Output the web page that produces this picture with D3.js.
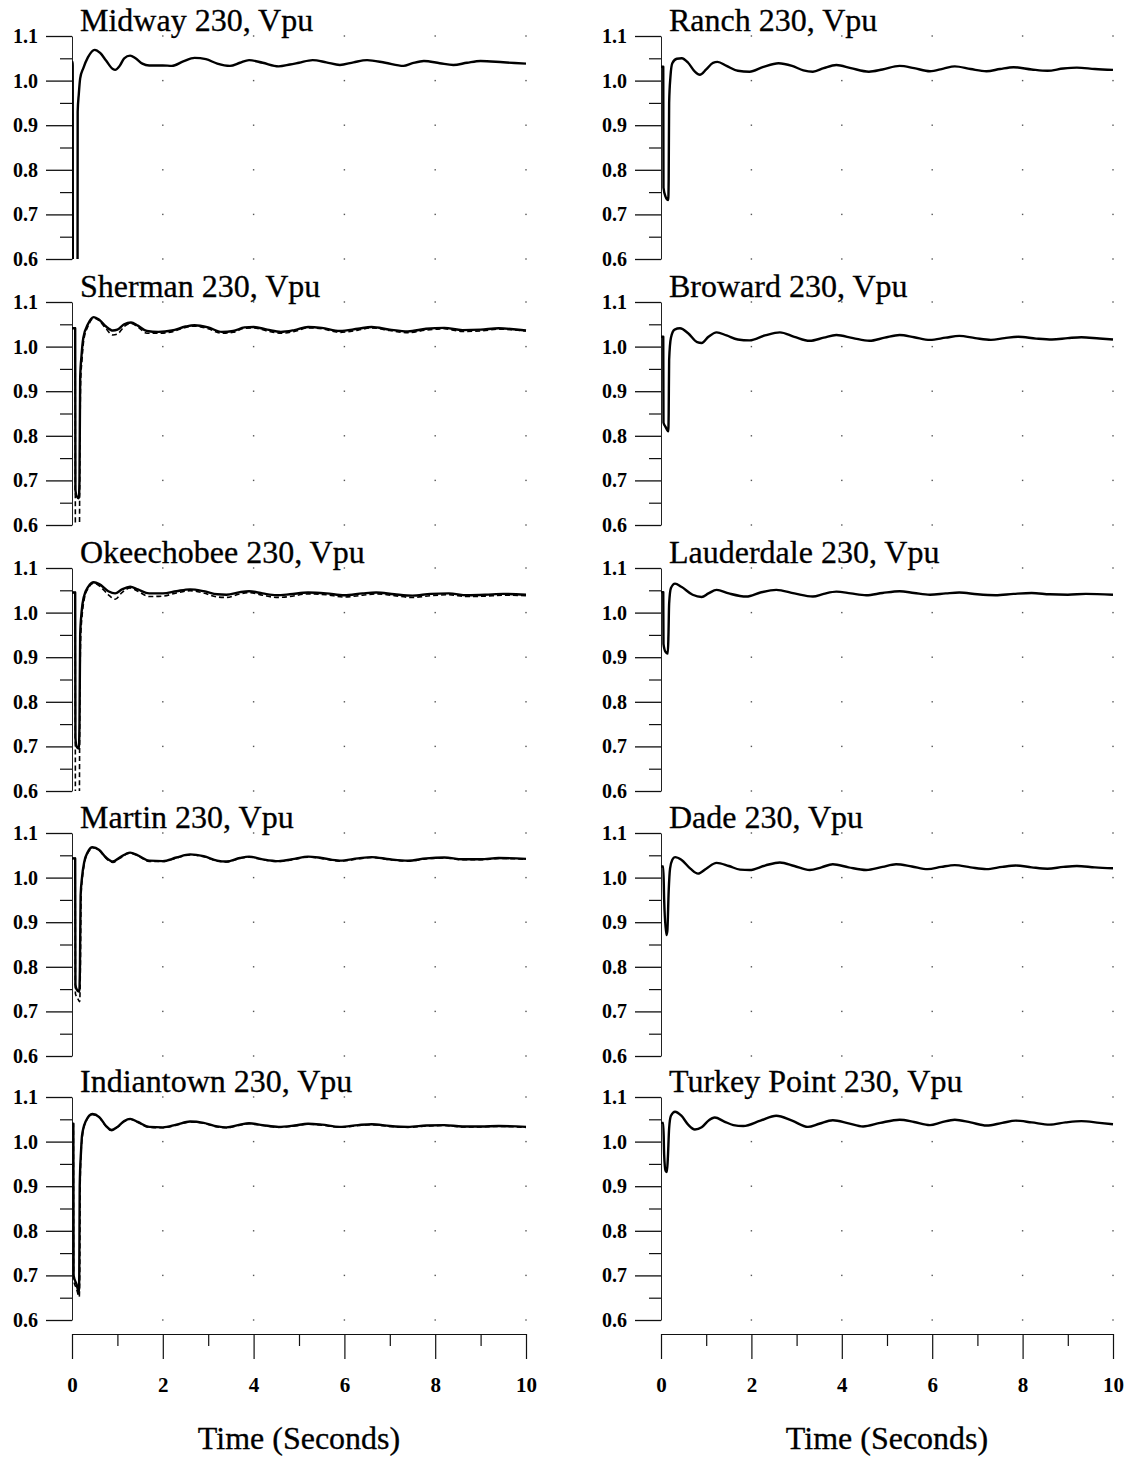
<!DOCTYPE html>
<html><head><meta charset="utf-8">
<script src="https://cdn.jsdelivr.net/npm/d3@7"></script>
<style>body{margin:0;background:#fff}svg{display:block}</style>
</head><body><svg id="c" width="1132" height="1459"></svg>
<script>
// ---------- data ----------
const yTicks = [0.6, 0.7, 0.8, 0.9, 1.0, 1.1];
const yMinor = [0.65, 0.75, 0.85, 0.95, 1.05];
const xTicks = [0, 2, 4, 6, 8, 10];
const xMinor = [1, 3, 5, 7, 9];
const gridT = [2, 4, 6, 8, 10];

const midway = [[0,1.042],[0.015,1.042],[0.02,0.3],[0.12,0.3],[0.125,0.93],[0.15,0.97],[0.18,1.005],[0.25,1.028],[0.35,1.052],[0.5,1.069],[0.62,1.062],[0.75,1.045],[0.9,1.026],[0.95,1.024],[1.05,1.033],[1.15,1.05],[1.28,1.056],[1.4,1.05],[1.55,1.038],[1.7,1.034],[2.0,1.034],[2.2,1.033],[2.45,1.043],[2.7,1.051],[2.95,1.048],[3.2,1.038],[3.48,1.033],[3.7,1.04],[3.9,1.046],[4.2,1.04],[4.55,1.032],[4.8,1.036],[5.0,1.04],[5.3,1.046],[5.6,1.041],[5.9,1.035],[6.2,1.041],[6.5,1.046],[6.9,1.04],[7.3,1.033],[7.5,1.039],[7.75,1.044],[8.1,1.039],[8.4,1.035],[8.7,1.04],[9.0,1.044],[9.5,1.041],[10,1.038]];

const shermanSolid = [[0,1.041],[0.07,1.041],[0.075,0.68],[0.1,0.665],[0.15,0.66],[0.165,0.7],[0.18,0.93],[0.21,0.98],[0.25,1.02],[0.35,1.05],[0.48,1.066],[0.6,1.06],[0.75,1.045],[0.9,1.036],[1.0,1.038],[1.15,1.05],[1.3,1.054],[1.45,1.047],[1.65,1.035],[1.9,1.033],[2.2,1.036],[2.5,1.045],[2.7,1.048],[3.0,1.043],[3.3,1.033],[3.55,1.035],[3.8,1.043],[4.0,1.044],[4.3,1.038],[4.6,1.033],[4.9,1.037],[5.2,1.044],[5.5,1.042],[5.9,1.035],[6.3,1.04],[6.6,1.044],[7.0,1.038],[7.4,1.034],[7.8,1.04],[8.2,1.042],[8.6,1.037],[9.0,1.038],[9.4,1.041],[10,1.036]];
const shermanDashed = [[0,1.041],[0.07,1.041],[0.075,0.5],[0.16,0.5],[0.17,0.7],[0.19,0.92],[0.22,0.97],[0.26,1.015],[0.35,1.045],[0.48,1.064],[0.6,1.058],[0.75,1.04],[0.9,1.026],[1.0,1.028],[1.15,1.045],[1.3,1.052],[1.45,1.044],[1.65,1.03],[1.9,1.03],[2.2,1.033],[2.5,1.043],[2.7,1.046],[3.0,1.04],[3.3,1.03],[3.55,1.032],[3.8,1.041],[4.0,1.042],[4.3,1.035],[4.6,1.03],[4.9,1.034],[5.2,1.042],[5.5,1.04],[5.9,1.032],[6.3,1.037],[6.6,1.042],[7.0,1.036],[7.4,1.031],[7.8,1.037],[8.2,1.04],[8.6,1.034],[9.0,1.035],[9.4,1.039],[10,1.035]];

const okeeSolid = [[0,1.045],[0.07,1.045],[0.075,0.72],[0.1,0.7],[0.15,0.695],[0.165,0.75],[0.18,0.95],[0.21,1.0],[0.26,1.035],[0.36,1.058],[0.48,1.068],[0.6,1.064],[0.8,1.048],[0.95,1.043],[1.1,1.052],[1.28,1.058],[1.45,1.052],[1.7,1.043],[2.0,1.043],[2.3,1.048],[2.6,1.052],[2.9,1.048],[3.2,1.041],[3.4,1.04],[3.7,1.046],[3.9,1.048],[4.2,1.043],[4.5,1.039],[4.8,1.041],[5.2,1.045],[5.6,1.043],[6.0,1.039],[6.4,1.043],[6.7,1.045],[7.1,1.041],[7.5,1.038],[7.9,1.042],[8.3,1.043],[8.7,1.039],[9.1,1.04],[9.5,1.042],[10,1.04]];
const okeeDashed = [[0,1.045],[0.07,1.045],[0.075,0.55],[0.16,0.55],[0.17,0.75],[0.19,0.94],[0.22,0.99],[0.27,1.03],[0.36,1.055],[0.48,1.066],[0.6,1.06],[0.8,1.04],[0.95,1.03],[1.1,1.045],[1.28,1.055],[1.45,1.048],[1.7,1.036],[2.0,1.037],[2.3,1.044],[2.6,1.049],[2.9,1.044],[3.2,1.035],[3.4,1.034],[3.7,1.042],[3.9,1.045],[4.2,1.039],[4.5,1.034],[4.8,1.036],[5.2,1.042],[5.6,1.04],[6.0,1.035],[6.4,1.039],[6.7,1.042],[7.1,1.038],[7.5,1.034],[7.9,1.038],[8.3,1.04],[8.7,1.036],[9.1,1.037],[9.5,1.039],[10,1.038]];

const martinSolid = [[0,1.043],[0.07,1.043],[0.075,0.76],[0.1,0.75],[0.16,0.744],[0.175,0.8],[0.19,0.96],[0.22,1.0],[0.27,1.035],[0.35,1.058],[0.45,1.068],[0.6,1.062],[0.75,1.045],[0.9,1.036],[1.05,1.045],[1.28,1.056],[1.45,1.05],[1.7,1.038],[2.0,1.037],[2.3,1.045],[2.6,1.052],[2.9,1.048],[3.2,1.038],[3.4,1.036],[3.7,1.044],[3.9,1.047],[4.2,1.041],[4.55,1.037],[4.9,1.042],[5.2,1.047],[5.5,1.044],[5.9,1.038],[6.3,1.043],[6.6,1.046],[7.0,1.041],[7.4,1.038],[7.8,1.043],[8.2,1.045],[8.6,1.041],[9.0,1.041],[9.4,1.044],[10,1.042]];
const martinDashed = [[0,1.043],[0.07,1.043],[0.075,0.74],[0.12,0.73],[0.17,0.722],[0.185,0.8],[0.2,0.96],[0.23,1.0],[0.28,1.035],[0.36,1.057],[0.46,1.067],[0.6,1.061],[0.75,1.043],[0.9,1.034],[1.05,1.043],[1.28,1.055],[1.45,1.049],[1.7,1.036],[2.0,1.036],[2.3,1.044],[2.6,1.051],[2.9,1.047],[3.2,1.037],[3.4,1.035],[3.7,1.043],[3.9,1.046],[4.2,1.04],[4.55,1.036],[4.9,1.041],[5.2,1.046],[5.5,1.043],[5.9,1.037],[6.3,1.042],[6.6,1.045],[7.0,1.04],[7.4,1.037],[7.8,1.042],[8.2,1.044],[8.6,1.04],[9.0,1.04],[9.4,1.043],[10,1.041]];

const indianSolid = [[0,1.04],[0.03,1.04],[0.035,0.7],[0.1,0.68],[0.15,0.663],[0.16,0.7],[0.17,0.9],[0.2,0.98],[0.22,1.013],[0.3,1.045],[0.45,1.062],[0.6,1.055],[0.75,1.035],[0.87,1.026],[1.0,1.033],[1.15,1.046],[1.28,1.051],[1.45,1.044],[1.7,1.033],[2.0,1.032],[2.3,1.038],[2.6,1.045],[2.9,1.042],[3.2,1.034],[3.4,1.032],[3.7,1.038],[3.9,1.041],[4.2,1.037],[4.55,1.033],[4.9,1.036],[5.2,1.04],[5.5,1.038],[5.9,1.033],[6.3,1.037],[6.6,1.039],[7.0,1.035],[7.4,1.033],[7.8,1.036],[8.2,1.037],[8.6,1.034],[9.0,1.034],[9.4,1.035],[10,1.033]];
const indianDashed = [[0,1.04],[0.03,1.04],[0.035,0.69],[0.1,0.67],[0.16,0.652],[0.17,0.7],[0.18,0.9],[0.2,0.975],[0.23,1.012],[0.3,1.044],[0.45,1.061],[0.6,1.054],[0.75,1.034],[0.87,1.025],[1.0,1.032],[1.15,1.045],[1.28,1.05],[1.45,1.043],[1.7,1.032],[2.0,1.031],[2.3,1.037],[2.6,1.044],[2.9,1.041],[3.2,1.033],[3.4,1.031],[3.7,1.037],[3.9,1.04],[4.2,1.036],[4.55,1.032],[4.9,1.035],[5.2,1.039],[5.5,1.037],[5.9,1.032],[6.3,1.036],[6.6,1.038],[7.0,1.034],[7.4,1.032],[7.8,1.035],[8.2,1.036],[8.6,1.033],[9.0,1.033],[9.4,1.034],[10,1.032]];

const ranch = [[0,1.031],[0.05,1.031],[0.055,0.76],[0.1,0.74],[0.16,0.732],[0.17,0.78],[0.18,0.95],[0.21,1.01],[0.25,1.039],[0.35,1.049],[0.46,1.05],[0.6,1.04],[0.75,1.02],[0.86,1.013],[1.0,1.025],[1.15,1.04],[1.25,1.042],[1.45,1.033],[1.7,1.022],[1.96,1.02],[2.25,1.03],[2.6,1.039],[2.9,1.033],[3.15,1.023],[3.36,1.02],[3.6,1.028],[3.88,1.035],[4.2,1.028],[4.6,1.02],[4.9,1.025],[5.28,1.033],[5.6,1.028],[5.95,1.021],[6.25,1.027],[6.5,1.032],[6.85,1.026],[7.2,1.021],[7.5,1.026],[7.8,1.03],[8.2,1.025],[8.55,1.022],[8.9,1.027],[9.2,1.029],[9.6,1.026],[10,1.024]];

const broward = [[0,1.022],[0.05,1.022],[0.055,0.83],[0.1,0.82],[0.16,0.81],[0.17,0.85],[0.18,0.97],[0.22,1.02],[0.3,1.038],[0.42,1.041],[0.6,1.03],[0.8,1.01],[0.9,1.008],[1.05,1.022],[1.23,1.032],[1.45,1.025],[1.7,1.016],[1.96,1.014],[2.3,1.025],[2.63,1.032],[2.95,1.022],[3.29,1.013],[3.6,1.02],[3.88,1.026],[4.25,1.019],[4.61,1.013],[4.95,1.02],[5.28,1.026],[5.6,1.021],[5.95,1.015],[6.3,1.02],[6.6,1.024],[6.95,1.019],[7.3,1.015],[7.6,1.019],[7.9,1.022],[8.3,1.018],[8.65,1.016],[9.0,1.019],[9.3,1.021],[9.7,1.018],[10,1.016]];

const lauderdale = [[0,1.046],[0.05,1.046],[0.055,0.93],[0.1,0.912],[0.15,0.908],[0.165,0.95],[0.18,1.02],[0.22,1.055],[0.31,1.065],[0.45,1.058],[0.7,1.04],[0.9,1.035],[1.05,1.043],[1.23,1.051],[1.5,1.043],[1.89,1.036],[2.2,1.045],[2.55,1.051],[2.95,1.043],[3.36,1.036],[3.6,1.042],[3.88,1.047],[4.2,1.043],[4.54,1.039],[4.9,1.044],[5.28,1.048],[5.6,1.044],[5.95,1.04],[6.3,1.043],[6.6,1.045],[7.0,1.041],[7.4,1.039],[7.8,1.042],[8.2,1.044],[8.6,1.041],[9.0,1.04],[9.4,1.042],[10,1.04]];

const dade = [[0,1.025],[0.05,1.025],[0.07,0.95],[0.12,0.871],[0.14,0.88],[0.17,0.97],[0.2,1.02],[0.25,1.04],[0.31,1.046],[0.45,1.04],[0.65,1.02],[0.82,1.009],[1.0,1.02],[1.23,1.033],[1.5,1.026],[1.75,1.018],[1.96,1.017],[2.3,1.027],[2.63,1.034],[2.95,1.026],[3.29,1.017],[3.55,1.023],[3.8,1.03],[4.15,1.023],[4.54,1.017],[4.9,1.024],[5.2,1.03],[5.55,1.025],[5.9,1.019],[6.2,1.024],[6.5,1.028],[6.85,1.023],[7.2,1.019],[7.55,1.024],[7.85,1.027],[8.2,1.023],[8.55,1.02],[8.9,1.024],[9.2,1.026],[9.6,1.023],[10,1.021]];

const turkey = [[0,1.042],[0.05,1.042],[0.07,0.97],[0.1,0.935],[0.13,0.932],[0.15,0.96],[0.18,1.03],[0.22,1.058],[0.31,1.067],[0.45,1.058],[0.6,1.038],[0.75,1.027],[0.9,1.032],[1.05,1.047],[1.19,1.054],[1.4,1.045],[1.6,1.037],[1.82,1.035],[2.2,1.047],[2.55,1.058],[2.9,1.047],[3.25,1.033],[3.5,1.04],[3.8,1.048],[4.15,1.041],[4.47,1.034],[4.85,1.042],[5.28,1.049],[5.6,1.044],[5.95,1.037],[6.2,1.043],[6.5,1.049],[6.85,1.043],[7.2,1.036],[7.55,1.042],[7.85,1.047],[8.2,1.043],[8.6,1.038],[8.95,1.043],[9.3,1.046],[9.7,1.042],[10,1.039]];

const stations = [
  {name: "Midway 230, Vpu", col: 0, row: 0, solid: midway, dashed: null},
  {name: "Sherman 230, Vpu", col: 0, row: 1, solid: shermanSolid, dashed: shermanDashed},
  {name: "Okeechobee 230, Vpu", col: 0, row: 2, solid: okeeSolid, dashed: okeeDashed},
  {name: "Martin 230, Vpu", col: 0, row: 3, solid: martinSolid, dashed: martinDashed},
  {name: "Indiantown 230, Vpu", col: 0, row: 4, solid: indianSolid, dashed: indianDashed},
  {name: "Ranch 230, Vpu", col: 1, row: 0, solid: ranch, dashed: null},
  {name: "Broward 230, Vpu", col: 1, row: 1, solid: broward, dashed: null},
  {name: "Lauderdale 230, Vpu", col: 1, row: 2, solid: lauderdale, dashed: null},
  {name: "Dade 230, Vpu", col: 1, row: 3, solid: dade, dashed: null},
  {name: "Turkey Point 230, Vpu", col: 1, row: 4, solid: turkey, dashed: null}
];
const xLabel = "Time (Seconds)";

// ---------- layout ----------
const colX = [[72, 526], [661, 1113]];
const rowTop = [36, 302, 568, 833, 1097];
const panelH = 223;
const axisY = 1334;
const FONT = "'Liberation Serif','Times New Roman',serif";

const svg = d3.select("#c");
svg.append("rect").attr("width", 1132).attr("height", 1459).attr("fill", "#fff");
const defs = svg.append("defs");

const xScales = colX.map(([a, b]) => d3.scaleLinear().domain([0, 10]).range([a, b]));

stations.forEach((s, i) => {
  const x = xScales[s.col];
  const top = rowTop[s.row];
  const y = d3.scaleLinear().domain([0.6, 1.1]).range([top + panelH, top]);
  const g = svg.append("g");

  // grid dots
  gridT.forEach(t => yTicks.forEach(v => {
    g.append("rect").attr("x", x(t) - 0.7).attr("y", y(v) - 0.7).attr("width", 1.4).attr("height", 1.4).attr("fill", "#555");
  }));

  // y axis major
  const ax = g.append("g").attr("transform", `translate(${x(0)},0)`)
    .call(d3.axisLeft(y).tickValues(yTicks).tickSize(26).tickSizeOuter(0).tickPadding(8).tickFormat(d3.format(".1f")));
  ax.select(".domain").attr("stroke", "#222").attr("stroke-width", 1);
  ax.selectAll(".tick line").attr("stroke", "#111").attr("stroke-width", 1.3);
  ax.selectAll(".tick text").attr("font-family", FONT).attr("font-weight", "bold").attr("font-size", 20).attr("fill", "#000");
  // minor
  const axm = g.append("g").attr("transform", `translate(${x(0)},0)`)
    .call(d3.axisLeft(y).tickValues(yMinor).tickSize(12).tickSizeOuter(0).tickFormat(""));
  axm.select(".domain").remove();
  axm.selectAll(".tick line").attr("stroke", "#111").attr("stroke-width", 1.2);

  // title
  g.append("text").attr("x", x(0) + 8).attr("y", top - 5)
    .attr("font-family", FONT).attr("font-size", 32).attr("fill", "#000")
    .attr("stroke", "#000").attr("stroke-width", 0.3).text(s.name);

  // clip
  const cid = "clip" + i;
  defs.append("clipPath").attr("id", cid).append("rect")
    .attr("x", x(0)).attr("y", top - 10).attr("width", x(10) - x(0) + 3).attr("height", panelH + 10);

  const line = d3.line().x(d => x(d[0])).y(d => y(d[1])).curve(d3.curveMonotoneX);
  const lg = g.append("g").attr("clip-path", `url(#${cid})`);
  if (s.dashed) {
    lg.append("path").datum(s.dashed).attr("d", line).attr("fill", "none")
      .attr("stroke", "#000").attr("stroke-width", 1.6).attr("stroke-dasharray", "5,3");
  }
  lg.append("path").datum(s.solid).attr("d", line).attr("fill", "none")
    .attr("stroke", "#000").attr("stroke-width", 2.4).attr("stroke-linejoin", "round");
});

// bottom time axes
xScales.forEach(x => {
  const a = svg.append("g").attr("transform", `translate(0,${axisY})`)
    .call(d3.axisBottom(x).tickValues(xTicks).tickSize(25).tickSizeOuter(0).tickPadding(18).tickFormat(d3.format("d")));
  a.select(".domain").attr("stroke", "#111").attr("stroke-width", 1.2);
  a.selectAll(".tick line").attr("stroke", "#111").attr("stroke-width", 1.2);
  a.selectAll(".tick text").attr("font-family", FONT).attr("font-weight", "bold").attr("font-size", 21).attr("fill", "#000");
  const am = svg.append("g").attr("transform", `translate(0,${axisY})`)
    .call(d3.axisBottom(x).tickValues(xMinor).tickSize(12).tickSizeOuter(0).tickFormat(""));
  am.select(".domain").remove();
  am.selectAll(".tick line").attr("stroke", "#111").attr("stroke-width", 1.2);

  svg.append("text").attr("x", (x(0) + x(10)) / 2).attr("y", 1449)
    .attr("text-anchor", "middle").attr("font-family", FONT).attr("font-size", 32).attr("fill", "#000")
    .attr("stroke", "#000").attr("stroke-width", 0.3).text(xLabel);
});
</script></body></html>
